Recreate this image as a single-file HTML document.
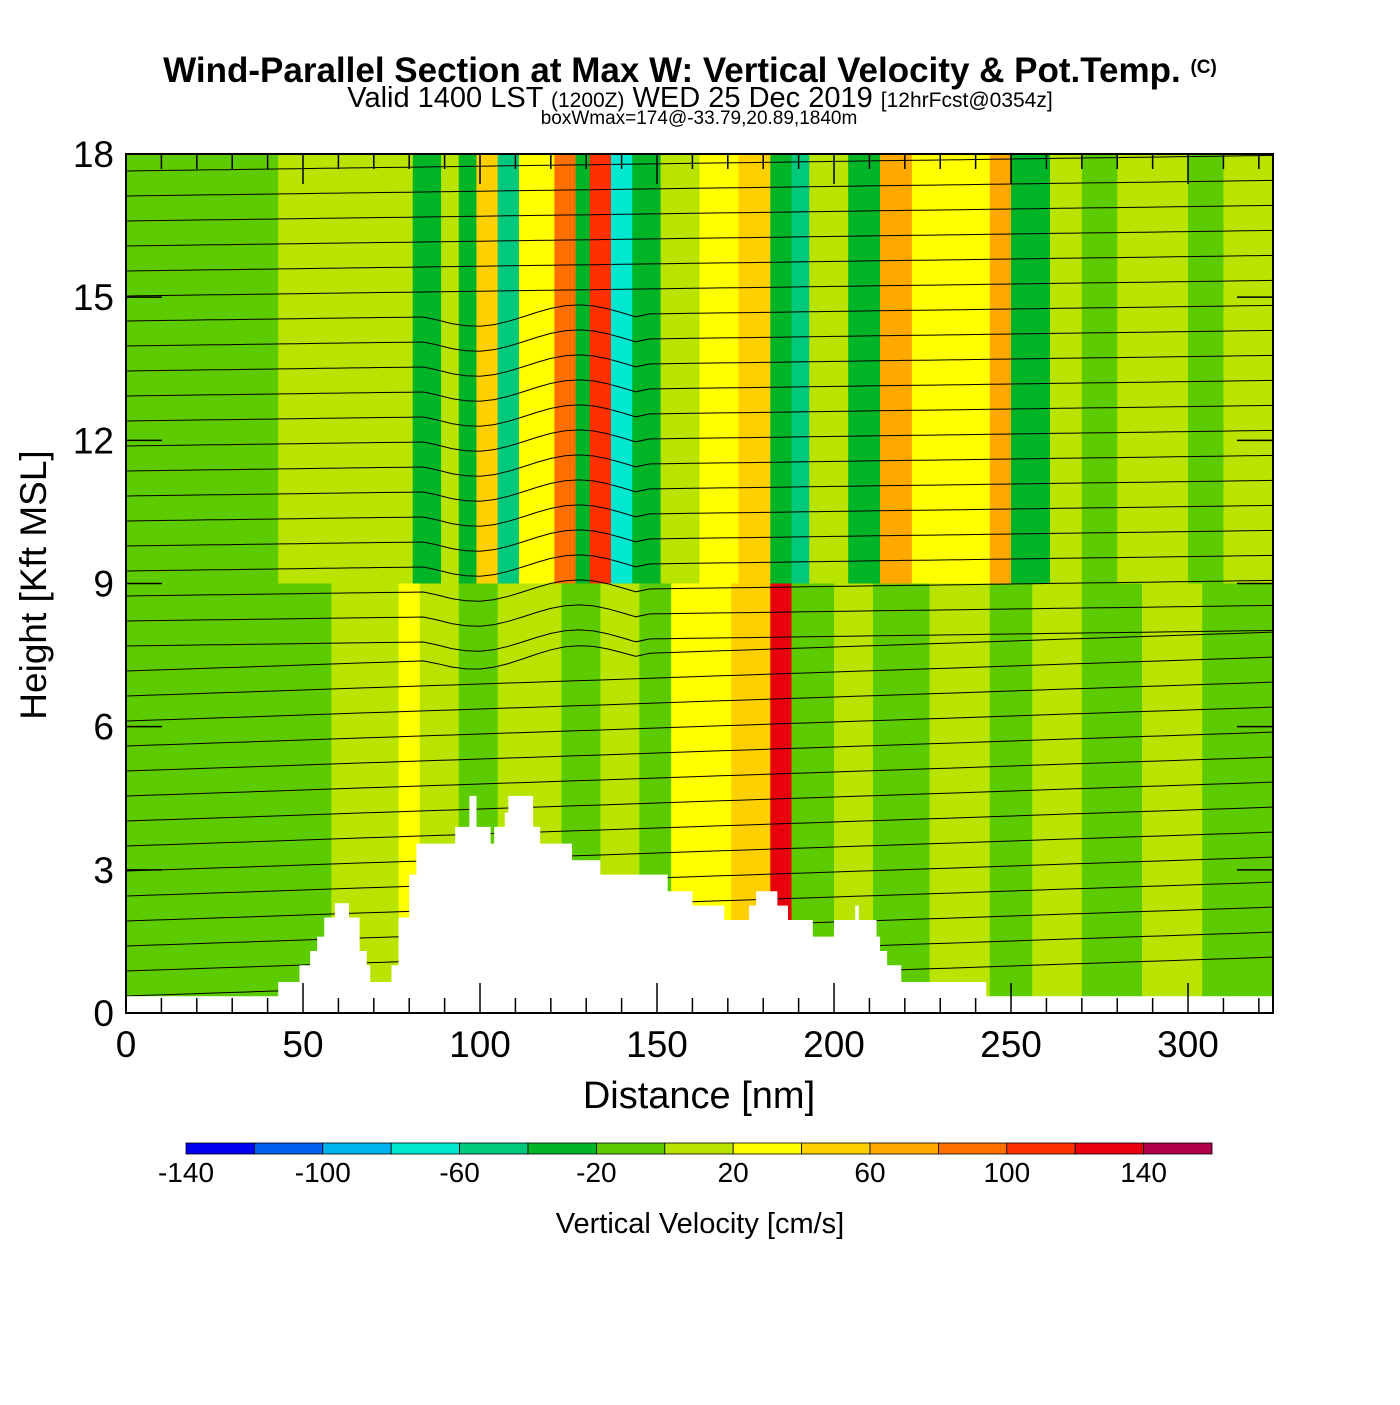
<!DOCTYPE html>
<html><head><meta charset="utf-8"><style>
body{margin:0;background:#fff;font-family:"Liberation Sans",sans-serif}
</style></head><body>
<svg id="chart" width="1400" height="1400" viewBox="0 0 1400 1400" xmlns="http://www.w3.org/2000/svg" font-family="Liberation Sans, sans-serif">
<rect width="1400" height="1400" fill="#fff"/>
<text x="690" y="82" text-anchor="middle" font-size="35" font-weight="bold">Wind-Parallel Section at Max W: Vertical Velocity &amp; Pot.Temp. <tspan font-size="19" dy="-9">(C)</tspan></text>
<text x="700" y="107" text-anchor="middle" font-size="29">Valid 1400 LST <tspan font-size="21">(1200Z)</tspan> WED 25 Dec 2019 <tspan font-size="21">[12hrFcst@0354z]</tspan></text>
<text x="699" y="124" text-anchor="middle" font-size="19">boxWmax=174@-33.79,20.89,1840m</text>
<g id="field"></g>
<g id="contours"></g>
<g id="terrain"></g>
<g id="axes"></g>
<g id="colorbar"></g>
<text x="699" y="1108" text-anchor="middle" font-size="38">Distance [nm]</text>
<text transform="translate(46,585) rotate(-90)" text-anchor="middle" font-size="37">Height [Kft MSL]</text>
<text x="700" y="1233" text-anchor="middle" font-size="29">Vertical Velocity [cm/s]</text>
</svg>
<script>
const upperStart=[0,43,81,89,94,99,105,111,121,127,131,137,143,151,162,173,182,188,193,204,213,222,244,250,261,270,280,300,310];
const upperW=[-10,10,-30,10,-30,40,-45,30,90,-30,110,-70,-25,10,30,50,-30,-50,10,-30,60,30,60,-25,10,-5,10,-5,10];
const lowerStart=[0,58,77,83,94,105,123,134,145,154,171,182,188,200,211,227,244,256,270,287,304];
const lowerW=[-10,10,30,10,-10,10,-10,10,-10,30,50,120,-10,10,-10,10,-10,10,-10,10,-10];
const terrainNm=[0,43,49,52,54,56,59,63,66,68,69,75,77,80,82,91,93,97,99,103,104,107,108,115,117,126,134,153,160,169,170,176,178,184,187,194,200,206,207,212,213,215,219,224,243,325];
const terrainKft=[0.35,0.65,1.0,1.3,1.6,2.0,2.3,2.0,1.3,1.0,0.65,1.0,2.0,2.9,3.55,3.55,3.9,4.55,3.9,3.55,3.9,4.2,4.55,3.9,3.55,3.2,2.9,2.55,2.25,1.95,1.95,2.25,2.55,2.25,1.95,1.6,1.95,2.25,1.95,1.6,1.3,1.0,0.65,0.65,0.35,0.35];
const cbEdges=[-140,-120,-100,-80,-60,-40,-20,0,20,40,60,80,100,120,140,160];
const cbColors=["#0000f0","#0060f0","#00b4f0","#00e8d0","#00c87c","#00b428","#5ccc00","#b8e400","#ffff00","#ffd000","#ffa800","#ff7000","#ff3000","#e8000c","#b0004c"];
const xTicks=[0,50,100,150,200,250,300];
const yTicks=[0,3,6,9,12,15,18];
const ns="http://www.w3.org/2000/svg";
const X0=126,X1=1273,Y0=1013,Y1=154,XMAX=324;
const sx=v=>X0+v*(X1-X0)/XMAX, sy=v=>Y0-v*(Y0-Y1)/18;
function col(w){for(let i=0;i<cbColors.length;i++){if(w<cbEdges[i+1])return cbColors[i];}return cbColors[cbColors.length-1];}
function mk(t,a,p){const e=document.createElementNS(ns,t);for(const k in a)e.setAttribute(k,a[k]);p.appendChild(e);return e;}
const field=document.getElementById('field');
upperStart.forEach((s,i)=>{const e=i+1<upperStart.length?upperStart[i+1]:XMAX;
 const r=mk('rect',{x:sx(s),y:sy(18),width:sx(e)-sx(s)+0.5,height:sy(9)-sy(18)+0.5,fill:col(upperW[i])},field);
 
 });
lowerStart.forEach((s,i)=>{const e=i+1<lowerStart.length?lowerStart[i+1]:XMAX;
 const r=mk('rect',{x:sx(s),y:sy(9),width:sx(e)-sx(s)+0.5,height:sy(0)-sy(9),fill:col(lowerW[i])},field);
 
 });
const cg=document.getElementById('contours');
for(let k=0;k<34;k++){
 const base=996-k*25;let d='';
 for(let nm=0;nm<=XMAX;nm+=4){
  let y=base-nm*0.12*(k<14?1:0.4);
  if(nm>85&&nm<145&&k>12&&k<28) y+=Math.sin((nm-85)/9)*10;
  if(y<Y1||y>Y0)continue;
  d+=(d?'L':'M')+sx(nm).toFixed(1)+','+y.toFixed(1);}
 if(d){const p=mk('path',{d:d,fill:'none',stroke:'#000','stroke-width':1},cg);
 
 }
}
let td='M'+sx(0)+','+sy(0);
terrainNm.forEach((n,i)=>{if(i>0)td+='L'+sx(n)+','+sy(terrainKft[i-1]);td+='L'+sx(n)+','+sy(terrainKft[i]);});
td+='L'+sx(XMAX)+','+sy(0)+'Z';
const tp=mk('path',{d:td,fill:'#fff'},document.getElementById('terrain'));


const ax=document.getElementById('axes');
const fr=mk('rect',{x:X0,y:Y1,width:X1-X0,height:Y0-Y1,fill:'none',stroke:'#000','stroke-width':2},ax);


for(let v=10;v<XMAX;v+=10){const L=v%50===0?30:15;
 mk('line',{x1:sx(v),x2:sx(v),y1:Y0,y2:Y0-L,stroke:'#000','stroke-width':1.5},ax);
 mk('line',{x1:sx(v),x2:sx(v),y1:Y1,y2:Y1+L,stroke:'#000','stroke-width':1.5},ax);}
xTicks.forEach(v=>{const t=mk('text',{x:sx(v),y:1057,'text-anchor':'middle','font-size':37},ax);t.textContent=v;
 
 });
yTicks.forEach(v=>{const t=mk('text',{x:114,y:sy(v)+13,'text-anchor':'end','font-size':37},ax);t.textContent=v;
 
 
 mk('line',{x1:X0,x2:X0+36,y1:sy(v),y2:sy(v),stroke:'#000','stroke-width':1.5},ax);
 mk('line',{x1:X1,x2:X1-36,y1:sy(v),y2:sy(v),stroke:'#000','stroke-width':1.5},ax);});
const cb=document.getElementById('colorbar');
const bw=(1212-186)/cbColors.length;
cbColors.forEach((c,i)=>{const r=mk('rect',{x:186+i*bw,y:1143,width:bw,height:11,fill:c,stroke:'#000','stroke-width':0.8},cb);
 
 });
cbEdges.forEach((v,i)=>{if(i%2===0&&i<15){const t=mk('text',{x:186+i*bw,y:1182,'text-anchor':'middle','font-size':28},cb);t.textContent=v;
 
 }});
</script>
</body></html>
